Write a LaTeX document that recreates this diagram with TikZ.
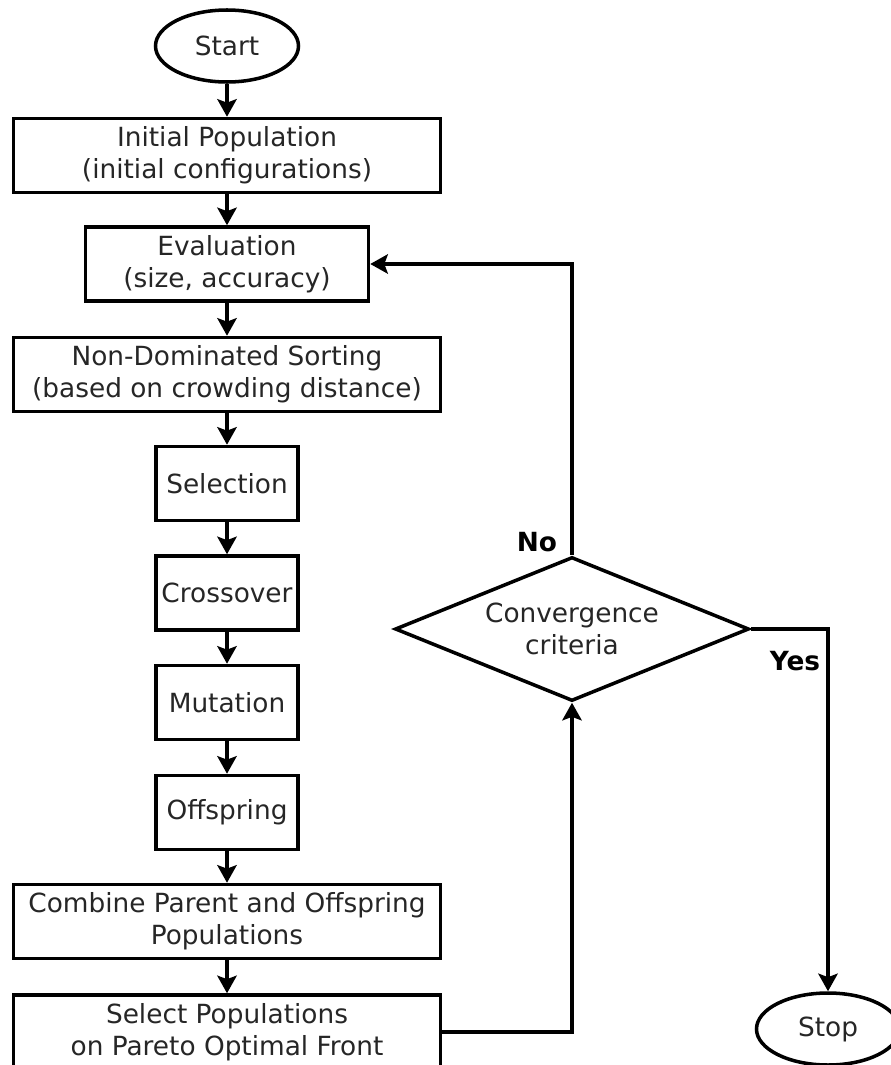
\documentclass[tikz,border=0pt]{standalone}
\usepackage{fontspec}
\setmainfont{DejaVu Sans}
\usepackage{tikz}
\usetikzlibrary{arrows.meta,shapes.geometric}

\begin{document}
\begin{tikzpicture}[x=0.2mm,y=-0.2mm,
        every node/.style={font=\fontsize{15}{18}\selectfont, text=black!85, align=center, line width=2pt},
        terminal/.style={draw, ellipse, minimum width=28.6mm, minimum height=14.4mm, inner sep=0pt},
        box/.style={draw, rectangle, minimum height=14.8mm, inner sep=1pt},
        wide/.style={box, minimum width=85.4mm},
        narrow/.style={box, minimum width=28.4mm},
        decision/.style={draw, diamond, aspect=2.46, minimum width=70.8mm, minimum height=28.8mm, inner sep=0pt},
        answer/.style={font=\fontsize{15}{18}\selectfont\bfseries, text=black},
        arr/.style={-{Stealth[length=10pt,width=11pt,inset=2pt]}, line width=2pt}]
        \fill[white] (0,0) rectangle (890,1065);
        \useasboundingbox (0,0) rectangle (890,1065);
        \node[terminal] (start) at (227,46) {Start};
        \node[wide] (init) at (227,155.5) {Initial Population\\(initial configurations)};
        \node[box, minimum width=56.6mm] (eval) at (227,264) {Evaluation\\(size, accuracy)};
        \node[wide] (sort) at (227,374.5) {Non-Dominated Sorting\\(based on crowding distance)};
        \node[narrow] (sel) at (227,483.5) {Selection};
        \node[narrow] (cross) at (227,593) {Crossover};
        \node[narrow] (mut) at (227,702.5) {Mutation};
        \node[narrow] (off) at (227,812.5) {Offspring};
        \node[wide] (comb) at (227,921.5) {Combine Parent and Offspring\\Populations};
        \node[wide] (front) at (227,1032) {Select Populations\\on Pareto Optimal Front};
        \node[decision] (conv) at (572,629) {Convergence\\criteria};
        \node[terminal] (stop) at (828,1029) {Stop};
        \node[answer] (no) at (537,542) {No};
        \node[answer] (yes) at (795,661) {Yes};
        \draw[arr] (start) -- (init);
        \draw[arr] (init) -- (eval);
        \draw[arr] (eval) -- (sort);
        \draw[arr] (sort) -- (sel);
        \draw[arr] (sel) -- (cross);
        \draw[arr] (cross) -- (mut);
        \draw[arr] (mut) -- (off);
        \draw[arr] (off) -- (comb);
        \draw[arr] (comb) -- (front);
        \draw[arr] (front.east) -| (conv.south);
        \draw[arr] (conv.north) |- (eval.east);
        \draw[arr] (conv.east) -| (stop.north);
    \end{tikzpicture}
\end{document}
